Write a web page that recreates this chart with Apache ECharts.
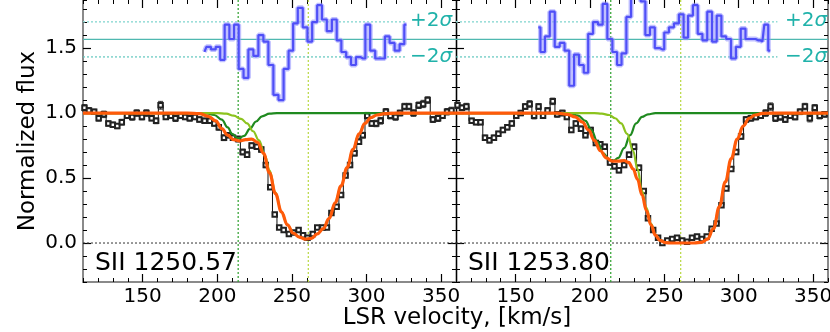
<!DOCTYPE html>
<html>
<head>
<meta charset="UTF-8">
<title>SII 1250 / 1253</title>
<script src="https://cdn.jsdelivr.net/npm/echarts@6.0.0/dist/echarts.min.js"></script>
<style>body{margin:0;background:#fff}</style>
</head>
<body>
<div id="main" style="width:830px;height:332px"></div>
<script>
// velocity range and ticks
var velMin = 110, velMax = 360;
var fluxMin = -0.3, fluxMax = 1.87;
var xMajor = [150, 200, 250, 300, 350];
var yMajor = [0, 0.5, 1.0, 1.5];
var lineNames = ['SII 1250.57', 'SII 1253.80'];
var compCenters = [214, 261];
var resBase = 1.567, resPlus = 1.702, resMinus = 1.432, resEnd = 326;

// SII 1250.57 data
var vel1 = [111,114,117.5,120.5,124,127,130,133,136,139.5,143,146,149.5,152.5,156,159,162,165.5,169,172,175.5,178.5,181.5,185,188,191.5,195,198,201,204.5,207.5,210.5,214,217,220,223,226.5,229.5,232.5,235.5,238.5,241.5,244.5,248,251,254.5,257.5,260.5,264,267,270.5,273.5,276.5,280,283,286,289,292,295,297.5,300.5,303.5,306.5,309.5,313,316,319.5,322.5,325.5,328.5,331.5,335,338,341,344.5,348,351,354,357];
var flux1 = [1.04,1.02,1.01,0.96,0.99,0.92,0.91,0.90,0.93,0.98,0.97,1.00,0.97,1.00,0.96,0.94,1.06,0.97,0.98,0.96,0.98,0.97,0.96,0.97,0.95,0.94,0.94,0.92,0.89,0.81,0.83,0.81,0.80,0.70,0.68,0.75,0.74,0.72,0.60,0.43,0.22,0.12,0.10,0.07,0.08,0.10,0.06,0.04,0.07,0.12,0.12,0.12,0.23,0.28,0.37,0.52,0.60,0.69,0.78,0.83,0.98,0.92,0.92,0.94,1.01,0.98,0.97,1.00,1.05,1.05,1.00,1.06,1.07,1.10,0.95,0.96,0.98,1.01,1.02];
var err1 = [0.025,0.022,0.02,0.022,0.025,0.02,0.02,0.02,0.022,0.022,
  0.025,0.025,0.022,0.025,0.02,0.022,0.03,0.02,0.022,0.025,
  0.022,0.02,0.022,0.02,0.02,0.02,0.02,0.02,0.022,0.022,
  0.02,0.02,0.022,0.022,0.022,0.02,0.02,0.02,0.02,0.018,
  0.015,0.012,0.012,0.012,0.012,0.012,0.012,0.012,0.012,0.012,
  0.012,0.012,0.015,0.015,0.018,0.018,0.02,0.02,0.022,0.022,
  0.025,0.022,0.025,0.025,0.025,0.025,0.025,0.022,0.025,0.025,
  0.025,0.025,0.028,0.025,0.022,0.025,0.022,0.025,0.025];
var modelV1 = [110,180,188,194,199,203,207,211,215,219,223,227,231,235,239,243,247,251,255,259,263,267,271,275,279,283,287,291,295,299,303,307,312,320,360];
var model1 = [1,1,0.995,0.975,0.94,0.88,0.83,0.795,0.785,0.795,0.80,0.775,0.69,0.54,0.38,0.24,0.14,0.075,0.045,0.03,0.035,0.07,0.11,0.19,0.31,0.44,0.58,0.72,0.84,0.92,0.965,0.985,0.995,1,1];
var compAV1 = [110,192,198,203,207,210,214,218,222,226,230,235,240,360];
var compA1 = [1,1,0.985,0.95,0.89,0.84,0.805,0.825,0.88,0.935,0.975,0.995,1,1];
var compBV1 = [110,200,206,211,216,220,224,228,232,235,239,243,247,251,255,259,263,267,271,275,279,283,287,291,295,299,303,307,312,320,360];
var compB1 = [1,1,0.995,0.98,0.955,0.92,0.86,0.79,0.67,0.56,0.39,0.24,0.14,0.075,0.045,0.03,0.035,0.07,0.11,0.19,0.31,0.44,0.58,0.72,0.84,0.92,0.965,0.985,0.995,1,1];
var resV1 = [191.4,194,197.5,200.4,203.5,206.4,209.8,212.7,216,219.2,222.5,225.9,229.2,232.6,235.9,239.3,242.7,246.2,249.4,252.3,255.6,259,261.9,265.3,268.6,271.7,275.1,278.5,281.6,284.7,288.1,291.2,294.6,297.7,300.8,304.2,307.5,310.9,313.8,317.2,320.5,323.9,326.8];
var res1 = [1.47,1.51,1.49,1.51,1.41,1.68,1.57,1.68,1.34,1.27,1.49,1.44,1.60,1.55,1.37,1.14,1.10,1.34,1.48,1.69,1.81,1.66,1.55,1.70,1.83,1.72,1.63,1.72,1.56,1.47,1.43,1.37,1.43,1.42,1.68,1.48,1.42,1.42,1.59,1.54,1.48,1.53,1.68];

// SII 1253.80 data
var vel2 = [111,114,117,120.5,123.5,126.5,129.5,132.5,135.5,138.5,141.5,144.5,147.5,150.5,153.5,156.5,159.5,162.5,165.5,168.5,171.5,175,178,181.5,184.5,187.5,190.5,194,197,200.5,204,207,210,213.5,216.5,219.5,223,226.3,229.7,233,236.2,239,242.5,245.8,248.7,252,255.3,258.6,262,265.3,268.6,272,275.2,278.5,281.8,285.1,288.4,291.7,295,298.3,301.6,304.9,308.2,311.5,314.8,318.1,321.4,324.7,328,331.3,334.6,337.9,341.2,344.5,347.8,351.1,354.4,357.7];
var flux2 = [1.06,1.04,1.05,0.94,0.93,0.93,0.81,0.79,0.81,0.84,0.87,0.89,0.92,0.98,1.00,1.05,1.07,0.98,1.05,0.98,1.02,1.09,0.99,1.00,0.97,0.87,0.92,0.88,0.83,0.87,0.77,0.76,0.74,0.62,0.59,0.56,0.60,0.68,0.74,0.58,0.40,0.19,0.10,0.04,0.00,0.02,0.03,0.04,0.02,0.01,0.04,0.05,0.03,0.05,0.11,0.15,0.29,0.42,0.57,0.70,0.82,0.95,0.96,0.97,0.98,1.00,1.05,0.96,0.97,0.95,0.98,0.97,1.01,1.05,0.96,1.04,0.98,0.99];
var err2 = [0.025,0.022,0.025,0.02,0.02,0.02,0.02,0.02,0.02,0.02,
  0.02,0.02,0.02,0.02,0.02,0.022,0.025,0.025,0.022,0.022,
  0.022,0.025,0.022,0.022,0.02,0.02,0.02,0.02,0.02,0.02,
  0.02,0.02,0.02,0.02,0.02,0.02,0.02,0.02,0.022,0.02,
  0.018,0.015,0.012,0.012,0.012,0.01,0.01,0.01,0.01,0.01,
  0.01,0.01,0.01,0.01,0.012,0.012,0.015,0.015,0.018,0.02,
  0.02,0.022,0.022,0.022,0.022,0.025,0.028,0.025,0.025,0.022,
  0.022,0.022,0.022,0.025,0.028,0.025,0.025,0.022];
var modelV2 = [110,178,185,190,195,199,203,207,211,215,219,223,226,229,232,235,238,241,244,247,251,255,270,275,279,283,287,291,295,299,303,307,311,316,322,360];
var model2 = [1,1,0.99,0.97,0.93,0.87,0.79,0.71,0.655,0.63,0.63,0.635,0.62,0.57,0.49,0.37,0.25,0.14,0.06,0.02,0.003,0,0,0.005,0.03,0.11,0.28,0.47,0.65,0.80,0.90,0.96,0.985,0.997,1,1];
var compAV2 = [110,186,192,197,201,205,209,213,216,219,223,227,231,235,239,244,360];
var compA2 = [1,1,0.98,0.94,0.87,0.78,0.69,0.64,0.635,0.655,0.73,0.83,0.92,0.97,0.99,1,1];
var compBV2 = [110,203,208,213,217,221,225,229,232,235,238,241,244,247,251,255,270,275,279,283,287,291,295,299,303,307,311,316,322,360];
var compB2 = [1,1,0.995,0.985,0.96,0.92,0.84,0.71,0.57,0.40,0.27,0.15,0.065,0.02,0.003,0,0,0.005,0.03,0.11,0.28,0.47,0.65,0.80,0.90,0.96,0.985,0.997,1,1];
var resV2 = [165.3,168.2,171.3,174.7,178,181.4,184.5,187.7,191,194.4,197.3,200.4,203.8,207.1,210,213.4,216.8,219.7,222.8,226.2,229.1,232.4,235.8,238.7,242,245.2,248.5,251.4,254.8,258.1,261.5,264.4,267.5,270.9,274,277.2,280.5,283.6,286.8,289.9,293.3,296.4,299.8,302.9,306.2,309.6,313,315.9,318.5,321.2];
var res2 = [1.66,1.47,1.59,1.78,1.51,1.54,1.48,1.21,1.45,1.37,1.31,1.61,1.70,1.68,1.84,1.57,1.47,1.37,1.46,1.74,1.95,1.95,1.86,1.60,1.66,1.50,1.49,1.62,1.66,1.69,1.76,1.58,1.75,1.83,1.61,1.56,1.78,1.55,1.75,1.59,1.57,1.42,1.51,1.65,1.57,1.57,1.56,1.55,1.68,1.48];

var panels = [
  {vel: vel1, flux: flux1, err: err1, mv: modelV1, m: model1, av: compAV1, a: compA1, bv: compBV1, b: compB1, rv: resV1, r: res1},
  {vel: vel2, flux: flux2, err: err2, mv: modelV2, m: model2, av: compAV2, a: compA2, bv: compBV2, b: compB2, rv: resV2, r: res2}
];

var FONT = 'DejaVu Sans';
var frameGrey = '#8a8a8a';

function pairs(xs, ys) { return xs.map(function (x, i) { return [x, ys[i]]; }); }

var grids = [
  {left: 83, top: 0, width: 373, height: 282, outerBoundsMode: 'none', containLabel: false},
  {left: 456, top: 0, width: 372, height: 282, outerBoundsMode: 'none', containLabel: false}
];

var xAxes = [], yAxes = [];
[0, 1].forEach(function (g) {
  var base = {type: 'value', gridIndex: g, min: velMin, max: velMax, splitLine: {show: false}};
  // bottom major with labels
  xAxes.push(Object.assign({}, base, {
    position: 'bottom',
    axisLine: {show: true, onZero: false, lineStyle: {color: frameGrey, width: 2}},
    axisTick: {show: true, inside: true, length: 8, customValues: xMajor, lineStyle: {color: '#000', width: 1.2}},
    axisLabel: {show: true, customValues: xMajor, margin: 5, fontSize: 20, fontFamily: FONT, color: '#000'}
  }));
  // bottom minor
  xAxes.push(Object.assign({}, base, {
    position: 'bottom', interval: 10,
    axisLine: {show: false, onZero: false},
    axisTick: {show: true, inside: true, length: 4, lineStyle: {color: '#000', width: 1}},
    axisLabel: {show: false}
  }));
  // top major
  xAxes.push(Object.assign({}, base, {
    position: 'top',
    axisLine: {show: false, onZero: false},
    axisTick: {show: true, inside: true, length: 8, customValues: xMajor, lineStyle: {color: '#000', width: 1.2}},
    axisLabel: {show: false}
  }));
  // top minor
  xAxes.push(Object.assign({}, base, {
    position: 'top', interval: 10,
    axisLine: {show: false, onZero: false},
    axisTick: {show: true, inside: true, length: 4, lineStyle: {color: '#000', width: 1}},
    axisLabel: {show: false}
  }));

  var ybase = {type: 'value', gridIndex: g, min: fluxMin, max: fluxMax, splitLine: {show: false}};
  var leftCol = g === 0 ? frameGrey : '#000';
  var rightCol = g === 0 ? '#000' : frameGrey;
  yAxes.push(Object.assign({}, ybase, {
    position: 'left',
    axisLine: {show: true, onZero: false, lineStyle: {color: leftCol, width: g === 0 ? 2 : 1.3}},
    axisTick: {show: true, inside: true, length: 8, customValues: yMajor, lineStyle: {color: '#000', width: 1.2}},
    axisLabel: {show: g === 0, customValues: yMajor, margin: 6, fontSize: 20, fontFamily: FONT, color: '#000',
      formatter: function (v) { return v.toFixed(1); }}
  }));
  yAxes.push(Object.assign({}, ybase, {
    position: 'left', interval: 0.1,
    axisLine: {show: false, onZero: false},
    axisTick: {show: true, inside: true, length: 4, lineStyle: {color: '#000', width: 1}},
    axisLabel: {show: false}
  }));
  yAxes.push(Object.assign({}, ybase, {
    position: 'right',
    axisLine: {show: true, onZero: false, lineStyle: {color: rightCol, width: g === 0 ? 1.3 : 2}},
    axisTick: {show: true, inside: true, length: 8, customValues: yMajor, lineStyle: {color: '#000', width: 1.2}},
    axisLabel: {show: false}
  }));
  yAxes.push(Object.assign({}, ybase, {
    position: 'right', interval: 0.1,
    axisLine: {show: false, onZero: false},
    axisTick: {show: true, inside: true, length: 4, lineStyle: {color: '#000', width: 1}},
    axisLabel: {show: false}
  }));
});

function errBars(p, g) {
  return {
    type: 'custom', xAxisIndex: g * 4, yAxisIndex: g * 4, silent: true, z: 3,
    data: p.vel.map(function (v, i) { return [v, p.flux[i] - p.err[i], p.flux[i] + p.err[i]]; }),
    encode: {x: 0, y: [1, 2]},
    renderItem: function (params, api) {
      var lo = api.coord([api.value(0), api.value(1)]);
      var hi = api.coord([api.value(0), api.value(2)]);
      var c = 2.5, st = {stroke: '#222', lineWidth: 0.9};
      return {type: 'group', children: [
        {type: 'line', shape: {x1: lo[0], y1: lo[1], x2: hi[0], y2: hi[1]}, style: st},
        {type: 'line', shape: {x1: lo[0] - c, y1: lo[1], x2: lo[0] + c, y2: lo[1]}, style: st},
        {type: 'line', shape: {x1: hi[0] - c, y1: hi[1], x2: hi[0] + c, y2: hi[1]}, style: st}
      ]};
    }
  };
}

function plainLine(data, g, color, width, type, z) {
  return {type: 'line', xAxisIndex: g * 4, yAxisIndex: g * 4, data: data, symbol: 'none', silent: true, z: z,
    lineStyle: {color: color, width: width, type: type}};
}

var series = [];
panels.forEach(function (p, g) {
  // guide lines
  series.push(plainLine([[velMin, 0], [velMax, 0]], g, '#333', 1, [2, 2], 1));
  series.push(plainLine([[compCenters[0], fluxMin], [compCenters[0], fluxMax]], g, '#2ca02c', 1.2, [2, 2], 1));
  series.push(plainLine([[compCenters[1], fluxMin], [compCenters[1], fluxMax]], g, '#b8d840', 1.2, [2, 2], 1));
  series.push(plainLine([[velMin, resBase], [velMax, resBase]], g, '#4fb8b0', 1.2, 'solid', 1));
  series.push(plainLine([[velMin, resPlus], [resEnd, resPlus]], g, '#94dcd6', 1.5, [2, 2], 1));
  series.push(plainLine([[velMin, resMinus], [resEnd, resMinus]], g, '#5ec6bd', 1.2, [2, 2], 1));
  // residuals
  series.push({type: 'line', xAxisIndex: g * 4, yAxisIndex: g * 4, data: pairs(p.rv, p.r), step: 'middle',
    symbol: 'none', silent: true, z: 4, lineStyle: {color: 'rgba(150,150,255,0.6)', width: 5}});
  series.push({type: 'line', xAxisIndex: g * 4, yAxisIndex: g * 4, data: pairs(p.rv, p.r), step: 'middle',
    symbol: 'none', silent: true, z: 5, lineStyle: {color: '#4f4ff7', width: 2.2}});
  // data
  series.push(errBars(p, g));
  series.push({type: 'line', xAxisIndex: g * 4, yAxisIndex: g * 4, data: pairs(p.vel, p.flux), step: 'middle',
    symbol: 'emptyRect', symbolSize: 4.5, silent: true, z: 4,
    lineStyle: {color: '#111', width: 1}, itemStyle: {color: '#222', borderWidth: 0.8}});
  // components
  series.push({type: 'line', xAxisIndex: g * 4, yAxisIndex: g * 4, data: pairs(p.av, p.a), smooth: 0.4,
    smoothMonotone: 'x', symbol: 'none', silent: true, z: 6, lineStyle: {color: '#1f8a1f', width: 2.2}});
  series.push({type: 'line', xAxisIndex: g * 4, yAxisIndex: g * 4, data: pairs(p.bv, p.b), smooth: 0.4,
    smoothMonotone: 'x', symbol: 'none', silent: true, z: 6, lineStyle: {color: '#8cc31e', width: 2.2}});
  // total model
  series.push({type: 'line', xAxisIndex: g * 4, yAxisIndex: g * 4, data: pairs(p.mv, p.m), smooth: 0.4,
    smoothMonotone: 'x', symbol: 'none', silent: true, z: 7, lineStyle: {color: '#ff5a0a', width: 3.2}});
});

var teal = '#20b2aa';
function sigmaText(x, y, sign) {
  return {type: 'text', x: x, y: y, silent: true, z: 100, style: {
    text: sign + '2{s|σ}', fill: teal, font: '20px "DejaVu Sans"', textVerticalAlign: 'middle',
    rich: {s: {fontStyle: 'italic', fontSize: 20, fontFamily: FONT, fill: teal}}
  }};
}

var graphics = [
  {type: 'text', x: 28, y: 141, rotation: Math.PI / 2, silent: true, style: {
    text: 'Normalized flux', fill: '#000', font: '23px "DejaVu Sans"', textAlign: 'center', textVerticalAlign: 'middle'}},
  {type: 'text', x: 457, y: 318, silent: true, style: {
    text: 'LSR velocity, [km/s]', fill: '#000', font: '23px "DejaVu Sans"', textAlign: 'center', textVerticalAlign: 'middle'}},
  {type: 'text', x: 95, y: 263, silent: true, z: 100, style: {
    text: lineNames[0], fill: '#000', font: '25px "DejaVu Sans"', textVerticalAlign: 'middle'}},
  {type: 'text', x: 468, y: 263, silent: true, z: 100, style: {
    text: lineNames[1], fill: '#000', font: '25px "DejaVu Sans"', textVerticalAlign: 'middle'}},
  sigmaText(410, 21, '+'), sigmaText(410, 57, '\u2212'),
  sigmaText(785, 21, '+'), sigmaText(785, 57, '\u2212')
];

var chart = echarts.init(document.getElementById('main'));
chart.setOption({
  animation: false,
  backgroundColor: '#fff',
  grid: grids,
  xAxis: xAxes,
  yAxis: yAxes,
  series: series,
  graphic: graphics
});
</script>
</body>
</html>
